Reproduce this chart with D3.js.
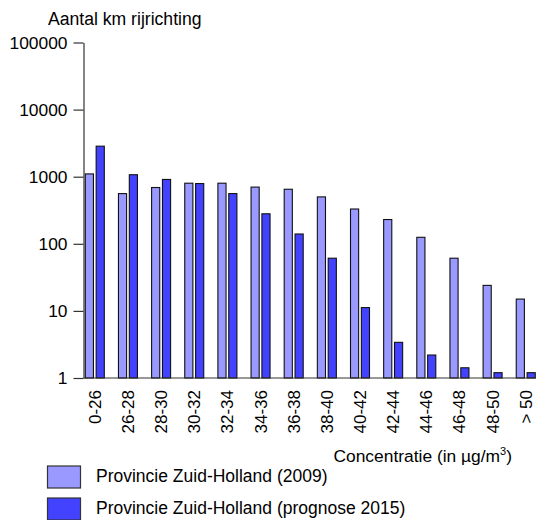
<!DOCTYPE html>
<html>
<head>
<meta charset="utf-8">
<script src="https://cdn.jsdelivr.net/npm/d3@7"></script>
<style>
  html, body { margin: 0; padding: 0; background: #fff; }
  svg { display: block; font-family: "Liberation Sans", Arial, sans-serif; }
</style>
</head>
<body>
<svg id="chart" width="536" height="520"></svg>
<script>
const categories = ["0-26", "26-28", "28-30", "30-32", "32-34", "34-36", "36-38", "38-40", "40-42", "42-44", "44-46", "46-48", "48-50", "> 50"];
const seriesNames = ["Provincie Zuid-Holland (2009)", "Provincie Zuid-Holland (prognose 2015)"];
const values2009 = [1100, 560, 690, 800, 800, 700, 650, 500, 330, 230, 125, 61, 24, 15];
const values2015 = [2850, 1070, 910, 790, 560, 280, 140, 61, 11.2, 3.4, 2.2, 1.42, 1.2, 1.2];
const yTicks = [1, 10, 100, 1000, 10000, 100000];
const colors = ["#9999ff", "#4343ff"];
const yTitle = "Aantal km rijrichting";
const xTitle = "Concentratie (in µg/m";

const svg = d3.select("#chart");
const axisX = 83.5, baseY = 378, topY = 42.5;
const step = 33.15;

const x0 = d3.scaleBand().domain(categories).range([axisX + 0.5, axisX + 0.5 + step * categories.length]).padding(0);
const x1 = d3.scaleBand().domain([0, 1]).range([1.3, 20.3]).paddingInner(0.25);
const y = d3.scaleLog().domain([1, 100000]).range([baseY, topY]);

const data = categories.map((c, i) => ({ cat: c, vals: [values2009[i], values2015[i]] }));

// bars
const groups = svg.append("g").selectAll("g").data(data).join("g")
  .attr("transform", d => `translate(${x0(d.cat)},0)`);
groups.selectAll("rect").data(d => d.vals.map((v, k) => ({ v, k }))).join("rect")
  .attr("x", d => x1(d.k))
  .attr("width", x1.bandwidth())
  .attr("y", d => y(d.v))
  .attr("height", d => baseY - y(d.v))
  .attr("fill", d => colors[d.k])
  .attr("stroke", "#111")
  .attr("stroke-width", 1.1);

// y axis
const yAxis = svg.append("g").attr("transform", `translate(${axisX},0)`)
  .call(d3.axisLeft(y).tickValues(yTicks).tickFormat(d3.format("d")).tickSize(10).tickPadding(6).tickSizeOuter(0));
yAxis.select(".domain").attr("stroke", "#333").attr("stroke-width", 1.2);
yAxis.selectAll(".tick line").attr("stroke", "#333").attr("stroke-width", 1.2);
yAxis.selectAll(".tick text").attr("font-size", 17.4).attr("fill", "#000")
  .attr("font-family", "Liberation Sans, Arial, sans-serif");

// x axis line
svg.append("line").attr("x1", axisX).attr("x2", 536).attr("y1", baseY).attr("y2", baseY)
  .attr("stroke", "#333").attr("stroke-width", 1.2);

// x labels
svg.append("g").selectAll("text").data(categories).join("text")
  .attr("transform", d => `translate(${x0(d) + (x1(0) + x1(1) + x1.bandwidth()) / 2},390) rotate(-90)`)
  .attr("text-anchor", "end")
  .attr("dy", "0.35em")
  .attr("font-size", 17)
  .text(d => d);

// titles
svg.append("text").attr("x", 48).attr("y", 25).attr("font-size", 17.6).text(yTitle);
const xt = svg.append("text").attr("x", 512).attr("y", 462).attr("text-anchor", "end").attr("font-size", 17.4);
xt.append("tspan").text(xTitle);
xt.append("tspan").attr("font-size", 11).attr("dy", -7).text("3");
xt.append("tspan").attr("dy", 7).text(")");

// legend
const legendY = [466, 498];
const lg = svg.append("g").selectAll("g").data(seriesNames).join("g");
lg.append("rect").attr("x", 47.5).attr("y", (d, i) => legendY[i]).attr("width", 33).attr("height", 22)
  .attr("fill", (d, i) => colors[i]).attr("stroke", "#333").attr("stroke-width", 1.2);
lg.append("text").attr("x", 96).attr("y", (d, i) => legendY[i] + 16).attr("font-size", 17.5).text(d => d);
</script>
</body>
</html>
